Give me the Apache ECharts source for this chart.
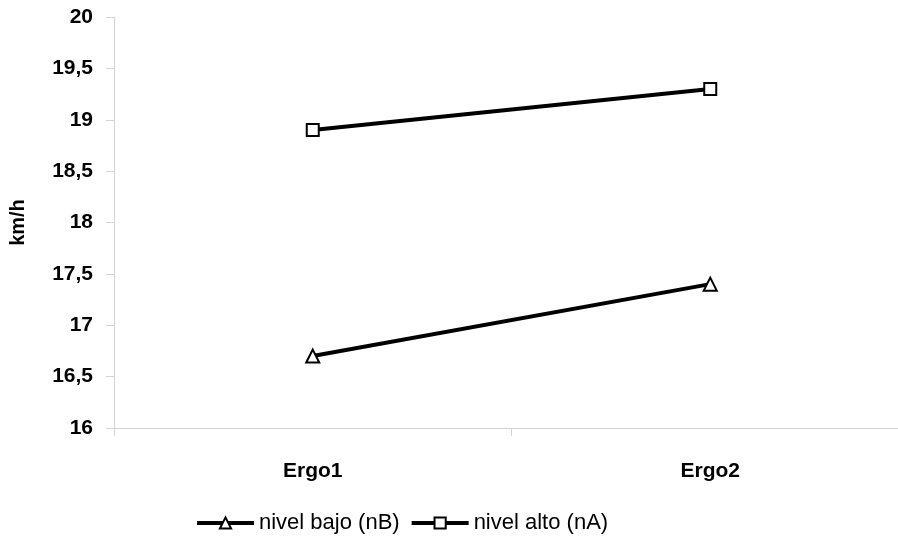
<!DOCTYPE html>
<html>
<head>
<meta charset="utf-8">
<script src="https://cdn.jsdelivr.net/npm/echarts@6/dist/echarts.min.js"></script>
<style>html,body{margin:0;padding:0;background:#fff;overflow:hidden;width:898px;height:538px}#c{width:920px;height:538px}</style>
</head>
<body>
<div id="c"></div>
<script>
const categories = ['Ergo1', 'Ergo2'];
const nivelBajo = [16.7, 17.4];
const nivelAlto = [18.9, 19.3];
const yMin = 16, yMax = 20, yStep = 0.5;
const seriesNames = ['nivel bajo (nB)', 'nivel alto (nA)'];
const yAxisName = 'km/h';

const chart = echarts.init(document.getElementById('c'));
const font = 'Liberation Sans';
chart.setOption({
  animation: false,
  backgroundColor: '#fff',
  grid: { left: 113, top: 17, width: 796, height: 411, containLabel: false },
  legend: {
    data: seriesNames,
    top: 512,
    left: 195,
    padding: 0,
    itemWidth: 57,
    itemHeight: 14,
    itemGap: 10,
    lineStyle: { width: 4, color: '#000' },
    textStyle: { fontFamily: font, fontSize: 22, color: '#000' }
  },
  xAxis: {
    type: 'category',
    data: categories,
    boundaryGap: true,
    axisLine: { lineStyle: { color: '#d4d4d4', width: 1 } },
    axisTick: { show: true, length: 8, lineStyle: { color: '#d4d4d4' } },
    axisLabel: { margin: 33, fontFamily: font, fontSize: 21, fontWeight: 'bold', color: '#000' }
  },
  yAxis: {
    type: 'value',
    min: yMin, max: yMax, interval: yStep,
    name: yAxisName,
    nameLocation: 'middle',
    nameRotate: 90,
    nameGap: 86,
    nameTextStyle: { fontFamily: font, fontSize: 20, fontWeight: 'bold', color: '#000' },
    axisLine: { show: true, lineStyle: { color: '#d4d4d4', width: 1 } },
    axisTick: { show: true, length: 8, lineStyle: { color: '#d4d4d4' } },
    splitLine: { show: false },
    axisLabel: {
      margin: 21, fontFamily: font, fontSize: 21, fontWeight: 'bold', color: '#000',
      formatter: v => String(v).replace('.', ',')
    }
  },
  series: [
    {
      name: seriesNames[0], type: 'line', data: nivelBajo,
      symbol: 'triangle', symbolSize: 13,
      lineStyle: { color: '#000', width: 4 },
      itemStyle: { color: '#fff', borderColor: '#000', borderWidth: 2 }
    },
    {
      name: seriesNames[1], type: 'line', data: nivelAlto,
      symbol: 'rect', symbolSize: 12,
      lineStyle: { color: '#000', width: 4 },
      itemStyle: { color: '#fff', borderColor: '#000', borderWidth: 2 }
    }
  ]
});
</script>
</body>
</html>
